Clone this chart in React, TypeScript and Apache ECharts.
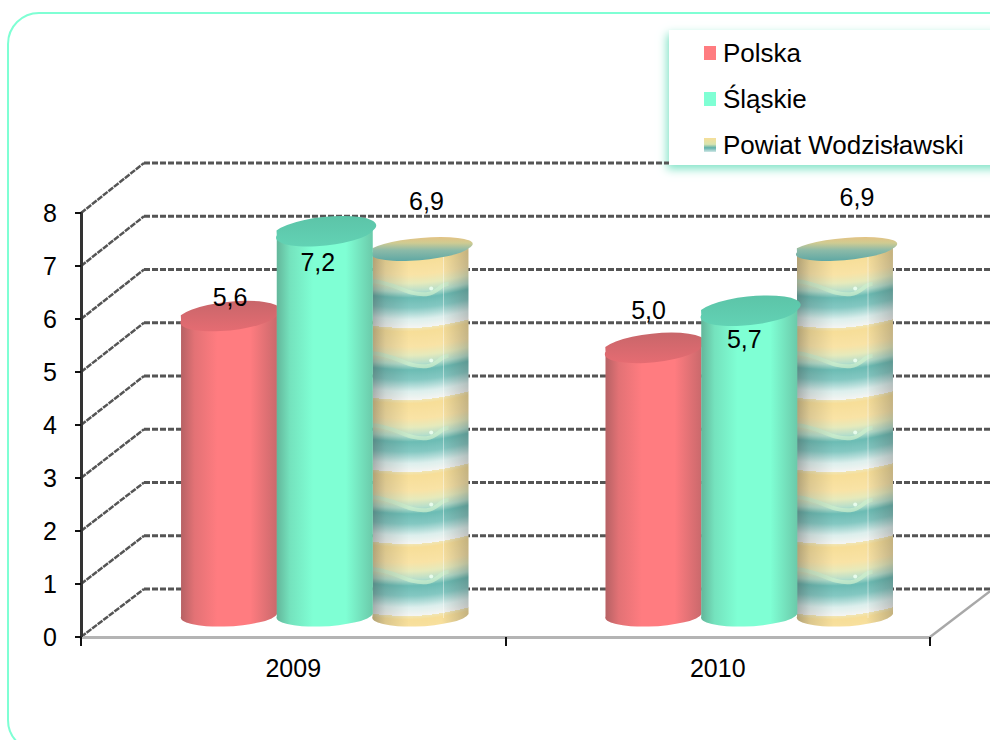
import React, { useEffect, useRef } from "react";
import * as echarts from "echarts";

const years = ["2009", "2010"];
const seriesNames = ["Polska", "Śląskie", "Powiat Wodzisławski"];
const polska = [5.6, 5.0];
const slaskie = [7.2, 5.7];
const powiat = [6.9, 6.9];
const yTicks = [0, 1, 2, 3, 4, 5, 6, 7, 8];

const FONT = "Liberation Sans";
const RED = "#FF7C80";
const GREEN = "#7FFFD4";
const DEPTH_X = 63;
const DEPTH_Y = 48;

// pixel nudges of the value labels relative to each cylinder's top centre
const labelNudge = [
  [[1, -18], [-5, -37]],
  [[-7, 32], [-5, 29]],
  [[6, -47], [12, -51]],
];
// shape of the top cap per series: tilt, vertical radius, vertical nudge
const capShape = [
  [10, 12.5, 0],
  [10, 12.5, 0],
  [8, 9.5, 2],
];

function makeTile(w: number, h: number, px: number, py: number) {
  const base = document.createElement("canvas");
  base.width = w;
  base.height = h;
  const b = base.getContext("2d")!;
  const g = b.createLinearGradient(0, 0, 0, h);
  g.addColorStop(0, "#F1E6B4");
  g.addColorStop(0.05, "#F7DE98");
  g.addColorStop(0.26, "#F9E3A6");
  g.addColorStop(0.38, "#E6EABC");
  g.addColorStop(0.5, "#B4DECC");
  g.addColorStop(0.58, "#6CBCB4");
  g.addColorStop(0.72, "#84C8C2");
  g.addColorStop(0.88, "#DCEFED");
  g.addColorStop(1, "#F5F5F2");
  b.fillStyle = g;
  b.fillRect(0, 0, w, h);
  const c = document.createElement("canvas");
  c.width = w;
  c.height = h;
  const ctx = c.getContext("2d")!;
  for (let x = 0; x < w; x++) {
    const dy = 5 * Math.sin((Math.PI * x) / w) - (7 * x) / w + 3;
    for (const k of [-h, 0, h]) ctx.drawImage(base, x, 0, 1, h, x, dy + k, 1, h);
  }
  ctx.strokeStyle = "rgba(205,240,205,0.7)";
  ctx.lineWidth = 4;
  ctx.beginPath();
  ctx.moveTo(0, h * 0.42);
  ctx.bezierCurveTo(w * 0.25, h * 0.45, w * 0.35, h * 0.62, w * 0.55, h * 0.6);
  ctx.bezierCurveTo(w * 0.68, h * 0.58, w * 0.68, h * 0.46, w * 0.78, h * 0.46);
  ctx.stroke();
  ctx.fillStyle = "rgba(235,255,240,0.9)";
  ctx.beginPath();
  ctx.arc(w * 0.6, h * 0.52, 2, 0, Math.PI * 2);
  ctx.fill();
  // shift the tile so that it lines up with the cylinder it fills
  const out = document.createElement("canvas");
  out.width = w;
  out.height = h;
  const o = out.getContext("2d")!;
  for (const i of [-1, 0]) for (const j of [-1, 0]) o.drawImage(c, px + i * w, py + j * h);
  return out;
}

function ellipseArc(cx: number, cy: number, w: number, tilt: number, ry: number) {
  const left = [cx - w / 2, cy + tilt / 2];
  const right = [cx + w / 2, cy - tilt / 2];
  const rx = Math.hypot(w, tilt) / 2;
  const rot = (Math.atan2(-tilt, w) * 180) / Math.PI;
  return { left, right, rx, ry, rot };
}

const shade = {
  type: "linear", x: 0, y: 0, x2: 1, y2: 0,
  colorStops: [
    { offset: 0, color: "rgba(50,50,50,0.36)" },
    { offset: 0.14, color: "rgba(50,50,50,0.14)" },
    { offset: 0.38, color: "rgba(50,50,50,0)" },
    { offset: 0.72, color: "rgba(50,50,50,0)" },
    { offset: 1, color: "rgba(50,50,50,0.26)" },
  ],
};

export default function App() {
  const ref = useRef<HTMLDivElement>(null);
  const overlay = useRef<HTMLDivElement>(null);
  useEffect(() => {
    const chart = echarts.init(ref.current!, null, { renderer: "svg" });
    const tileW = 97;
    const tileH = 72;
    const tiles: Record<string, HTMLCanvasElement> = {};
    const tileFor = (left: number, top: number) => {
      const px = Math.round(left) % tileW;
      const py = Math.round(top) % tileH;
      const key = px + "_" + py;
      if (!tiles[key]) tiles[key] = makeTile(tileW, tileH, px, py);
      return tiles[key];
    };

    const capFill = (i: number) =>
      i === 0
        ? { type: "linear", x: 0, y: 0, x2: 0, y2: 1, colorStops: [{ offset: 0, color: "#C8666A" }, { offset: 1, color: "#E56C72" }] }
        : i === 1
        ? { type: "linear", x: 0, y: 0, x2: 0, y2: 1, colorStops: [{ offset: 0, color: "#5CC4A8" }, { offset: 1, color: "#62D2B4" }] }
        : { type: "linear", x: 0, y: 0, x2: 0, y2: 1, colorStops: [
            { offset: 0, color: "#E3C384" }, { offset: 0.25, color: "#CFCB92" },
            { offset: 0.55, color: "#8CBAA8" }, { offset: 1, color: "#5FA8A4" } ] };

    const cylinder = (i: number) => (params: any, api: any) => {
      const cat = api.value(0);
      const val = api.value(1);
      const band = api.size([1, 0])[0];
      const w = band * 0.226;
      const base = api.coord([cat, 0]);
      const top = api.coord([cat, val]);
      const cx = base[0] + DEPTH_X / 2 + (i - 1) * band * 0.2255;
      const [tilt, ry, nudge] = capShape[i];
      const yTop = top[1] - 25 + nudge;
      const yBottom = base[1] - 23;
      const t = ellipseArc(cx, yTop, w, tilt, ry);
      const b = ellipseArc(cx, yBottom, w, 5, 11);
      const side =
        `M${t.left[0]} ${t.left[1]} L${b.left[0]} ${b.left[1]} ` +
        `A${b.rx} ${b.ry} ${b.rot} 0 0 ${b.right[0]} ${b.right[1]} L${t.right[0]} ${t.right[1]} Z`;
      const cap =
        `M${t.left[0]} ${t.left[1]} A${t.rx} ${t.ry} ${t.rot} 0 0 ${t.right[0]} ${t.right[1]} ` +
        `A${t.rx} ${t.ry} ${t.rot} 0 0 ${t.left[0]} ${t.left[1]} Z`;
      const fill =
        i === 0
          ? RED
          : i === 1
          ? GREEN
          : { image: tileFor(cx - w / 2, yTop + 3), repeat: "repeat", imageWidth: tileW, imageHeight: tileH };
      const children: any[] = [
        { type: "path", shape: { pathData: side }, style: { fill, stroke: "none" } },
        { type: "path", shape: { pathData: side }, style: { fill: shade, stroke: "none" } },
      ];
      if (i === 2) {
        children.push({
          type: "line",
          shape: { x1: cx + w * 0.24, y1: yTop + 8, x2: cx + w * 0.24, y2: yBottom + 4 },
          style: { stroke: "rgba(255,255,255,0.45)", lineWidth: 1 },
        });
      }
      children.push({ type: "path", shape: { pathData: cap }, style: { fill: capFill(i), stroke: "none" } });
      const n = labelNudge[i][cat];
      children.push({
        type: "text",
        x: cx + n[0],
        y: yTop + n[1],
        style: {
          text: val.toFixed(1).replace(".", ","),
          fill: "#000",
          fontFamily: FONT,
          fontSize: 25,
          align: "center",
          verticalAlign: "middle",
        },
      });
      return { type: "group", children };
    };

    const wall = (params: any, api: any) => {
      const v = api.value(1);
      const y = api.coord([0, v])[1];
      const x = params.coordSys.x;
      const backY = y - DEPTH_Y - v * 0.25;
      const topTick = yTicks[yTicks.length - 1];
      const children: any[] = [
        {
          type: "line",
          shape: { x1: x, y1: y, x2: x + DEPTH_X, y2: backY },
          style: { stroke: "#555", lineWidth: 2.5, lineDash: [6, 1] },
        },
        {
          // the highest back line stops where the legend box begins
          type: "line",
          shape: { x1: x + DEPTH_X, y1: backY, x2: v === topTick ? 669 : x + DEPTH_X + 1000, y2: backY },
          style: { stroke: "#555", lineWidth: 3, lineDash: [6, 2] },
        },
      ];
      if (v === 0) {
        const rx = x + params.coordSys.width;
        children.push({
          type: "line",
          shape: { x1: rx, y1: y, x2: rx + DEPTH_X, y2: y - DEPTH_Y },
          style: { stroke: "#a8a8a8", lineWidth: 2.5 },
        });
      }
      return { type: "group", children };
    };

    const tag = (arr: number[]) => arr.map((v, k) => [k, v]);

    chart.setOption({
      animation: false,
      legend: {
        data: seriesNames,
        orient: "vertical",
        left: 704,
        top: 40,
        padding: 0,
        itemWidth: 12,
        itemHeight: 14,
        itemGap: 20,
        icon: "rect",
        textStyle: { fontFamily: FONT, fontSize: 26, color: "#000", lineHeight: 26, padding: [0, 0, 0, 2] },
      },
      grid: [{ left: 81, top: 213, width: 849, height: 424 }],
      xAxis: [
        {
          type: "category",
          data: years,
          z: 6,
          axisLine: { show: true, lineStyle: { color: "#b4b4b4", width: 3 } },
          axisTick: { show: true, length: 9, lineStyle: { color: "#111", width: 2 } },
          axisLabel: { fontFamily: FONT, fontSize: 25, color: "#000", margin: 18 },
        },
      ],
      yAxis: [
        {
          type: "value",
          min: 0,
          max: 8,
          interval: 1,
          z: 6,
          axisLine: { show: true, lineStyle: { color: "#333", width: 2.5 } },
          axisTick: { show: true, length: 6, lineStyle: { color: "#111", width: 2 } },
          axisLabel: { fontFamily: FONT, fontSize: 25, color: "#000", margin: 24 },
          splitLine: { show: false },
        },
      ],
      series: [
        {
          type: "custom",
          name: "wall",
          z: 1,
          renderItem: wall,
          data: yTicks.map((v) => [0, v]),
          encode: { x: 0, y: 1 },
          silent: true,
        },
        {
          type: "custom",
          name: seriesNames[0],
          z: 2,
          itemStyle: { color: RED },
          renderItem: cylinder(0),
          data: tag(polska),
          encode: { x: 0, y: 1 },
        },
        {
          type: "custom",
          name: seriesNames[1],
          z: 4,
          itemStyle: { color: GREEN },
          renderItem: cylinder(1),
          data: tag(slaskie),
          encode: { x: 0, y: 1 },
        },
        {
          type: "custom",
          name: seriesNames[2],
          z: 3,
          itemStyle: {
            color: {
              type: "linear", x: 0, y: 0, x2: 0, y2: 1,
              colorStops: [
                { offset: 0, color: "#F6DE98" },
                { offset: 0.45, color: "#D8E4B0" },
                { offset: 0.7, color: "#5FB0AA" },
                { offset: 1, color: "#D0E8E6" },
              ],
            },
          },
          renderItem: cylinder(2),
          data: tag(powiat),
          encode: { x: 0, y: 1 },
        },
      ],
    });

    // vertical axis line and its ticks, placed with the chart's own scale
    const host = overlay.current!;
    const yPixel = (v: number) => chart.convertToPixel({ yAxisIndex: 0 }, v) as number;
    const xPixel = 81;
    const addBar = (left: number, top: number, width: number, height: number, color: string) => {
      const d = document.createElement("div");
      d.style.cssText = `position:absolute;left:${left}px;top:${top}px;width:${width}px;height:${height}px;background:${color}`;
      host.appendChild(d);
    };
    const yMax = yPixel(yTicks[yTicks.length - 1]);
    const yMin = yPixel(yTicks[0]);
    addBar(xPixel - 1, yMax, 2.5, yMin - yMax, "#333");
    yTicks.forEach((v) => addBar(xPixel - 6, yPixel(v) - 1, 6, 2, "#111"));

    return () => {
      host.innerHTML = "";
      chart.dispose();
    };
  }, []);
  return (
    <div style={{ position: "fixed", left: 0, top: 0, width: 990, height: 740, overflow: "hidden", background: "#fff" }}>
      <div
        style={{
          position: "absolute",
          left: 7,
          top: 12,
          width: 1010,
          height: 736,
          borderRadius: 32,
          border: `2.5px solid ${GREEN}`,
        }}
      />
      <div
        style={{
          position: "absolute",
          left: 669,
          top: 30,
          width: 360,
          height: 135,
          background: "#fff",
          boxShadow: "-2px 4px 9px #7FE3C6",
        }}
      />
      <div ref={ref} style={{ position: "absolute", left: 0, top: 0, width: 990, height: 740 }} />
      <div ref={overlay} style={{ position: "absolute", left: 0, top: 0, width: 990, height: 740, pointerEvents: "none" }} />
    </div>
  );
}
